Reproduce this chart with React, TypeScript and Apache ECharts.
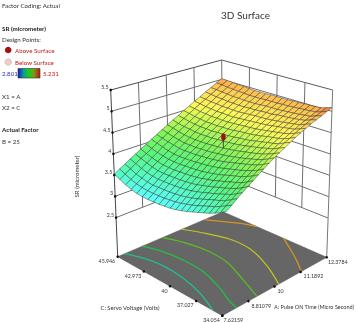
import React, { useEffect, useRef } from "react";
import * as echarts from "echarts";

const FONT = 'Lato, sans-serif';
const zTicks = [2.5, 3, 3.5, 4, 4.5, 5, 5.5];
const zTickLabels = ["2.5", "3", "3.5", "4", "4.5", "5", "5.5"];
const gridFractions = [0.25, 0.5, 0.75];
const aTickLabels = ["7.62159", "8.81079", "10", "11.1892", "12.3784"];
const cTickLabels = ["34.054", "37.027", "40", "42.973", "45.946"];
const tickFractions = [0, 0.25, 0.5, 0.75, 1];
const Z_FLOOR = 1.58;
const Z_TOP = 5.5;

// rows: C low to high, columns: A low to high
const srRows = [
  [3.70,3.78,3.87,3.95,4.03,4.11,4.19,4.27,4.35,4.42,4.49,4.56,4.63,4.70,4.76,4.82,4.88,4.93,4.98,5.04,5.09],
  [3.63,3.72,3.80,3.88,3.96,4.04,4.12,4.20,4.28,4.36,4.43,4.51,4.58,4.64,4.71,4.77,4.83,4.89,4.94,4.99,5.05],
  [3.57,3.66,3.74,3.82,3.90,3.98,4.07,4.15,4.23,4.30,4.38,4.45,4.52,4.59,4.66,4.72,4.78,4.84,4.89,4.95,5.01],
  [3.52,3.61,3.69,3.78,3.86,3.94,4.02,4.11,4.19,4.26,4.34,4.42,4.49,4.56,4.63,4.70,4.76,4.82,4.88,4.94,5.00],
  [3.48,3.57,3.66,3.74,3.82,3.91,3.99,4.07,4.16,4.23,4.31,4.39,4.47,4.54,4.61,4.68,4.74,4.80,4.86,4.93,4.99],
  [3.44,3.53,3.62,3.70,3.79,3.87,3.96,4.04,4.13,4.20,4.28,4.36,4.44,4.52,4.59,4.66,4.72,4.79,4.85,4.92,4.99],
  [3.40,3.49,3.58,3.67,3.75,3.84,3.92,4.01,4.10,4.17,4.26,4.34,4.42,4.49,4.57,4.64,4.71,4.78,4.84,4.91,4.98],
  [3.36,3.45,3.54,3.63,3.72,3.80,3.89,3.98,4.07,4.15,4.23,4.31,4.39,4.47,4.55,4.62,4.69,4.77,4.83,4.90,4.98],
  [3.33,3.42,3.51,3.60,3.69,3.78,3.86,3.95,4.04,4.12,4.21,4.29,4.37,4.45,4.53,4.61,4.68,4.75,4.82,4.90,4.97],
  [3.30,3.39,3.48,3.57,3.66,3.75,3.84,3.93,4.02,4.10,4.19,4.27,4.36,4.44,4.52,4.60,4.67,4.75,4.82,4.89,4.97],
  [3.28,3.37,3.46,3.55,3.64,3.73,3.82,3.91,4.00,4.09,4.17,4.26,4.34,4.43,4.51,4.59,4.67,4.74,4.82,4.89,4.97],
  [3.27,3.36,3.45,3.54,3.63,3.72,3.81,3.90,3.99,4.07,4.16,4.25,4.33,4.41,4.50,4.58,4.66,4.73,4.81,4.89,4.97],
  [3.26,3.35,3.44,3.53,3.62,3.71,3.80,3.89,3.98,4.06,4.15,4.24,4.32,4.40,4.49,4.57,4.65,4.73,4.80,4.88,4.96],
  [3.26,3.35,3.44,3.53,3.62,3.71,3.80,3.88,3.97,4.06,4.14,4.23,4.32,4.40,4.48,4.56,4.64,4.72,4.80,4.88,4.96],
  [3.26,3.35,3.44,3.53,3.62,3.70,3.79,3.88,3.97,4.05,4.14,4.23,4.31,4.39,4.48,4.56,4.64,4.72,4.80,4.88,4.96],
  [3.27,3.36,3.44,3.53,3.62,3.71,3.80,3.88,3.97,4.06,4.14,4.23,4.32,4.40,4.49,4.57,4.65,4.73,4.81,4.89,4.97],
  [3.29,3.38,3.46,3.55,3.63,3.72,3.81,3.89,3.98,4.06,4.15,4.24,4.32,4.40,4.49,4.57,4.65,4.73,4.81,4.90,4.98],
  [3.33,3.41,3.50,3.58,3.67,3.75,3.84,3.92,4.01,4.09,4.17,4.26,4.34,4.42,4.51,4.59,4.67,4.75,4.83,4.91,4.99],
  [3.38,3.46,3.54,3.63,3.71,3.79,3.87,3.96,4.04,4.12,4.20,4.28,4.36,4.44,4.52,4.60,4.68,4.76,4.84,4.92,5.00],
  [3.45,3.53,3.61,3.69,3.77,3.84,3.92,4.00,4.08,4.16,4.24,4.31,4.39,4.47,4.55,4.63,4.70,4.78,4.86,4.94,5.01],
  [3.52,3.60,3.67,3.75,3.82,3.90,3.97,4.05,4.12,4.20,4.27,4.35,4.42,4.50,4.57,4.65,4.72,4.80,4.87,4.95,5.02],
];

const colorLevels = [3.26, 3.55, 3.85, 4.15, 4.4, 4.6, 4.8, 4.97, 5.01, 5.09];
const colorStops = ["#5ffcff", "#55fbc0", "#5cf57a", "#85f45a", "#c8f855", "#fff85a", "#ffdc58", "#ffb650", "#ff8f4a", "#ff7040"];

// floor contours, as [A fraction, C fraction]
const contour1 = [[0.067,1],[0.122,0.878],[0.153,0.717],[0.139,0.512],[0.087,0.3],[0,0.09]];
const contour2 = [[0.233,1],[0.288,0.853],[0.31,0.683],[0.299,0.481],[0.228,0.25],[0.158,0.084],[0.137,0]];
const contour3 = [[0.424,1],[0.485,0.858],[0.52,0.67],[0.505,0.463],[0.414,0.213],[0.332,0]];
const contour4 = [[0.61,1],[0.69,0.84],[0.745,0.672],[0.742,0.477],[0.66,0.236],[0.541,0]];
const contour5a = [[0.825,1],[0.896,0.886],[0.957,0.788],[1,0.675]];
const contour5b = [[1,0.415],[0.924,0.276],[0.841,0.13],[0.756,0]];
const contours = [contour1, contour2, contour3, contour4, contour5a, contour5b];
const contourColors = ["#1fc08e", "#22c244", "#55c21e", "#c6c41e", "#d8941e", "#d8941e"];

const designPoint = { a: 0.5, c: 0.5, sr: 4.43, surface: 4.17 };

const view = {
  floor: { front: [222.3, 315.7], left: [117.7, 256.7], back: [223, 211.7], right: [326.7, 257.3] },
  top: { front: [230, 122.7], left: [110.7, 90], back: [221.7, 60], right: [332.7, 90] },
};

function bilinear(q: any, a: number, c: number, k: number) {
  return (1 - a) * (1 - c) * q.front[k] + (1 - a) * c * q.left[k] + a * c * q.back[k] + a * (1 - c) * q.right[k];
}
function project(api: any, a: number, c: number, z: number) {
  const t = (z - Z_FLOOR) / (Z_TOP - Z_FLOOR);
  const x = bilinear(view.floor, a, c, 0) * (1 - t) + bilinear(view.top, a, c, 0) * t;
  const y = bilinear(view.floor, a, c, 1) * (1 - t) + bilinear(view.top, a, c, 1) * t;
  return api.coord([x, y]);
}
function colorOf(z: number) {
  for (let i = 1; i < colorLevels.length; i++) {
    if (z <= colorLevels[i]) {
      const t = Math.max(0, (z - colorLevels[i - 1]) / (colorLevels[i] - colorLevels[i - 1]));
      return echarts.color.lerp(t, [colorStops[i - 1], colorStops[i]]);
    }
  }
  return colorStops[colorStops.length - 1];
}
function line(p: number[], q: number[], stroke: string, lineWidth: number) {
  return { type: "line", shape: { x1: p[0], y1: p[1], x2: q[0], y2: q[1] }, style: { stroke, lineWidth } };
}
function dot(p: number[], r = 1.3) {
  return { type: "circle", shape: { cx: p[0], cy: p[1], r }, style: { fill: "#111" } };
}
function label(text: string, x: number, y: number, align = "center", color = "#333", size = 5.3) {
  return { type: "text", x, y, style: { text, fill: color, font: `${size}px ${FONT}`, align, verticalAlign: "middle" } };
}

const cells: number[][] = [];
for (let i = 0; i < 20; i++) for (let j = 0; j < 20; j++) cells.push([i, j]);
cells.sort((p, q) => q[0] + q[1] - (p[0] + p[1]));

function renderWalls(_: any, api: any) {
  const children: any[] = [];
  const wallColor = "#6e6e6e";
  zTicks.forEach((z) => {
    children.push(line(project(api, 0, 1, z), project(api, 1, 1, z), z === 5.5 ? "#4a4a4a" : wallColor, 1));
    children.push(line(project(api, 1, 1, z), project(api, 1, 0, z), z === 5.5 ? "#5a5a5a" : wallColor, 1));
  });
  gridFractions.forEach((f) => {
    children.push(line(project(api, f, 1, 2.5), project(api, f, 1, 5.5), wallColor, 1));
    children.push(line(project(api, 1, f, 2.5), project(api, 1, f, 5.5), wallColor, 1));
  });
  children.push(line(project(api, 1, 1, 2.5), project(api, 1, 1, 5.5), wallColor, 1));
  children.push(line(project(api, 0, 1, Z_FLOOR), project(api, 0, 1, 5.5), "#444", 1));
  children.push(line(project(api, 1, 0, Z_FLOOR), project(api, 1, 0, 5.5), "#777", 1));
  const floor = [
    project(api, 0, 0, Z_FLOOR),
    project(api, 0, 1, Z_FLOOR),
    project(api, 1, 1, Z_FLOOR),
    project(api, 1, 0, Z_FLOOR),
  ];
  children.push({ type: "polygon", shape: { points: floor }, style: { fill: "#666666", stroke: "#555", lineWidth: 0.5 } });
  return { type: "group", children };
}

function renderContour(params: any, api: any) {
  const pts = contours[params.dataIndex].map((p) => project(api, p[0], p[1], Z_FLOOR));
  return {
    type: "polyline",
    shape: { points: pts, smooth: 0.35 },
    style: { stroke: contourColors[params.dataIndex], lineWidth: 1.25, fill: "none" },
  };
}

function renderCell(params: any, api: any) {
  const [i, j] = cells[params.dataIndex];
  const z00 = srRows[i][j], z01 = srRows[i][j + 1], z10 = srRows[i + 1][j], z11 = srRows[i + 1][j + 1];
  const a0 = j / 20, a1 = (j + 1) / 20, c0 = i / 20, c1 = (i + 1) / 20;
  return {
    type: "polygon",
    shape: { points: [project(api, a0, c0, z00), project(api, a1, c0, z01), project(api, a1, c1, z11), project(api, a0, c1, z10)] },
    style: { fill: colorOf((z00 + z01 + z10 + z11) / 4), stroke: "rgba(35,50,40,0.6)", lineWidth: 0.75 },
  };
}

function renderPoint(_: any, api: any) {
  const base = project(api, designPoint.a, designPoint.c, designPoint.surface);
  const head = project(api, designPoint.a, designPoint.c, designPoint.sr);
  return {
    type: "group",
    children: [
      line(base, head, "#3c3c3c", 0.9),
      { type: "ellipse", shape: { cx: head[0], cy: head[1], rx: 2.1, ry: 3.6 }, style: { fill: "#a80e0e", stroke: "#7a0a0a", lineWidth: 0.4 } },
    ],
  };
}

function renderAxisText(_: any, api: any) {
  const children: any[] = [];
  zTicks.forEach((z, i) => {
    const p = project(api, 0, 1, z);
    children.push(dot(p));
    children.push(label(zTickLabels[i], p[0] - 2, p[1] - 3, "right"));
  });
  tickFractions.forEach((f, i) => {
    const pa = project(api, f, 0, Z_FLOOR);
    children.push(dot(pa));
    children.push(label(aTickLabels[i], pa[0] + (i === 0 || i === 4 ? 1.2 : 3), pa[1] + 4.5, "left"));
    const pc = project(api, 0, f, Z_FLOOR);
    children.push(dot(pc));
    children.push(label(cTickLabels[i], pc[0] - 2.5, pc[1] + 4.5, "right"));
  });
  return { type: "group", children };
}

const legendTexts = [
  { text: "Factor Coding: Actual", x: 2, y: 5, fill: "#333", bold: false },
  { text: "SR (micrometer)", x: 2, y: 28, fill: "#222", bold: true },
  { text: "Design Points:", x: 2, y: 39, fill: "#333", bold: false },
  { text: "Above Surface", x: 15, y: 50, fill: "#c01818", bold: false },
  { text: "Below Surface", x: 15, y: 62, fill: "#c01818", bold: false },
  { text: "2.801", x: 2, y: 73, fill: "#2a2ae0", bold: false },
  { text: "5.231", x: 43, y: 73, fill: "#d81818", bold: false },
  { text: "X1 = A", x: 2, y: 96, fill: "#333", bold: false },
  { text: "X2 = C", x: 2, y: 107, fill: "#333", bold: false },
  { text: "Actual Factor", x: 2, y: 129, fill: "#222", bold: true },
  { text: "B = 25", x: 2, y: 141.5, fill: "#333", bold: false },
];

export default function App() {
  const ref = useRef<HTMLDivElement>(null);
  useEffect(() => {
    document.body.style.margin = "0";
    const chart = echarts.init(ref.current!, undefined, { renderer: "svg" });
    const mk = (data: any[], renderItem: any) => ({
      type: "custom",
      coordinateSystem: "cartesian2d",
      data,
      renderItem,
      silent: true,
      clip: false,
      encode: { x: 0, y: 1 },
    });
    chart.setOption({
      animation: false,
      title: {
        text: "3D Surface",
        left: 240.5,
        top: 5,
        textAlign: "center",
        textStyle: { fontFamily: FONT, fontSize: 10, fontWeight: "normal", color: "#333" },
      },
      grid: { left: 0, right: 0, top: 0, bottom: 0 },
      xAxis: { type: "value", min: 0, max: 357, show: false },
      yAxis: { type: "value", min: 0, max: 323, inverse: true, show: false },
      series: [
        mk([[0, 0]], renderWalls),
        mk(contours.map(() => [0, 0]), renderContour),
        mk(cells.map(() => [0, 0]), renderCell),
        mk([[0, 0]], renderPoint),
        mk([[0, 0]], renderAxisText),
      ],
      graphic: [
        ...legendTexts.map((t) => ({
          type: "text",
          x: t.x,
          y: t.y,
          style: {
            text: t.text,
            fill: t.fill,
            font: `${t.bold ? "bold " : ""}6.2px ${FONT}`,
            verticalAlign: "middle",
          },
        })),
        { type: "circle", shape: { cx: 8.2, cy: 50, r: 3.3 }, style: { fill: "#a80e0e" } },
        { type: "circle", shape: { cx: 8.2, cy: 62, r: 3.3 }, style: { fill: "#f8c8c8", stroke: "#aaa", lineWidth: 0.5 } },
        {
          type: "rect",
          shape: { x: 18, y: 68.5, width: 22, height: 9.5 },
          style: {
            fill: new echarts.graphic.LinearGradient(0, 0, 1, 0, [
              { offset: 0, color: "#1616c8" },
              { offset: 0.25, color: "#0f9a9a" },
              { offset: 0.5, color: "#12d01a" },
              { offset: 0.72, color: "#7d9a14" },
              { offset: 1, color: "#c01616" },
            ]),
            stroke: "#333",
            lineWidth: 0.6,
          },
        },
        {
          type: "text",
          x: 76,
          y: 176.5,
          rotation: Math.PI / 2,
          style: { text: "SR (micrometer)", fill: "#333", font: `6px ${FONT}`, align: "center", verticalAlign: "middle" },
        },
        { type: "text", x: 130, y: 307, style: { text: "C: Servo Voltage (Volts)", fill: "#333", font: `5.8px ${FONT}`, align: "center", verticalAlign: "middle" } },
        { type: "text", x: 314, y: 307, style: { text: "A: Pulse ON Time (Micro Second)", fill: "#333", font: `5.5px ${FONT}`, align: "center", verticalAlign: "middle" } },
      ],
    });
    return () => chart.dispose();
  }, []);
  return <div ref={ref} style={{ width: 357, height: 323, filter: "blur(0.4px)" }} />;
}
